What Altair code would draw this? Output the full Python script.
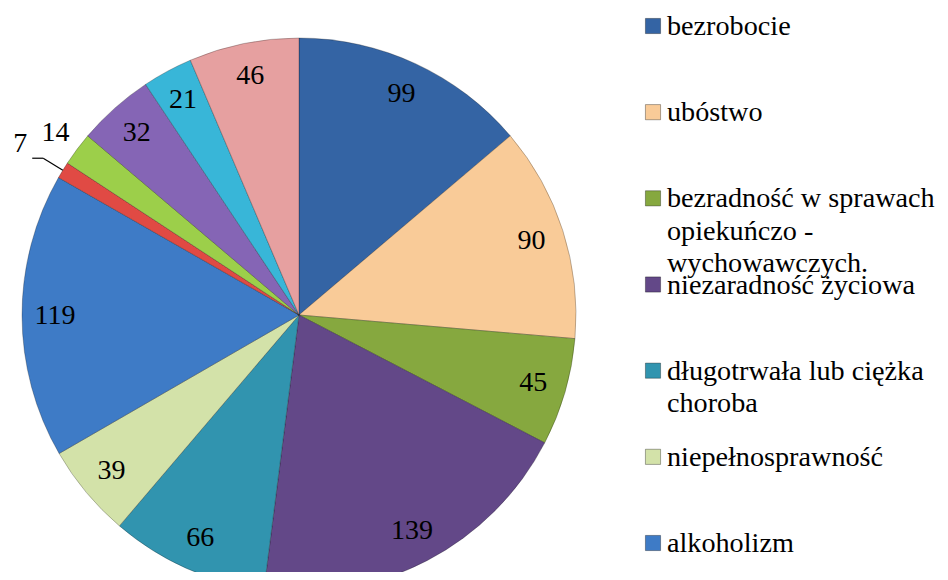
import altair as alt
import pandas as pd

# ---- data ----
names = [
    "bezrobocie",
    "ubóstwo",
    "bezradność w sprawach opiekuńczo - wychowawczych.",
    "niezaradność życiowa",
    "długotrwała lub ciężka choroba",
    "niepełnosprawność",
    "alkoholizm",
    "narkomania",
    "przemoc w rodzinie",
    "potrzeba ochrony macierzyństwa",
    "bezdomność",
    "wielodzietność",
]
values = [99, 90, 45, 139, 66, 39, 119, 7, 14, 32, 21, 46]
colors = [
    "#3464a4", "#f9cb98", "#86a83f", "#634888", "#3194af", "#d3e2a9",
    "#3e7bc6", "#e04a44", "#9ccf4a", "#8565b5", "#38b6d8", "#e6a0a0",
]
# legend as visible in the picture (only the first 7 entries fit)
legend_labels = [
    "bezrobocie",
    "ubóstwo",
    "bezradność w sprawach\nopiekuńczo -\nwychowawczych.",
    "niezaradność życiowa",
    "długotrwała lub ciężka\nchoroba",
    "niepełnosprawność",
    "alkoholizm",
]

df = pd.DataFrame({"idx": list(range(len(names))), "name": names, "value": values})
leg = pd.DataFrame({"idx": list(range(len(legend_labels))),
                    "name": names[:len(legend_labels)],
                    "label": legend_labels})

CX, CY, R = 291, 307, 277
FONT = "Liberation Serif"

color = alt.Color("name:N", scale=alt.Scale(domain=names, range=colors), legend=None)
theta = alt.Theta("value:Q", stack=True)
order = alt.Order("idx:Q", sort="ascending")

base = alt.Chart(df)

pie = base.mark_arc(radius=R, stroke="#000000", strokeOpacity=0.25, strokeWidth=1).encode(
    theta=theta, color=color, order=order,
    x=alt.value(CX), y=alt.value(CY),
)

inner = base.mark_text(radius=244, fontSize=28, font=FONT, color="black").encode(
    theta=theta, order=order,
    text=alt.condition("datum.value >= 20", "value:Q", alt.value("")),
    x=alt.value(CX), y=alt.value(CY),
)
outer14 = base.mark_text(radius=304, fontSize=28, font=FONT, color="black").encode(
    theta=theta, order=order,
    text=alt.condition("datum.value >= 10 && datum.value < 20", "value:Q", alt.value("")),
    x=alt.value(CX), y=alt.value(CY),
)
outer7 = base.mark_text(radius=327, fontSize=28, font=FONT, color="black").encode(
    theta=theta, order=order,
    text=alt.condition("datum.value < 10", "value:Q", alt.value("")),
    x=alt.value(CX), y=alt.value(CY),
)

lead_base = (
    base.transform_joinaggregate(total="sum(value)")
    .transform_window(cum="sum(value)", sort=[alt.SortField("idx")], frame=[None, 0])
    .transform_calculate(a="(datum.cum - datum.value/2)/datum.total*2*PI")
    .transform_filter("datum.value < 10")
    .transform_calculate(
        lx1=f"{CX}+{R}*sin(datum.a)", ly1=f"{CY}-{R}*cos(datum.a)",
        lx2=f"{CX}+300*sin(datum.a)", ly2=f"{CY}-300*cos(datum.a)",
    )
    .transform_calculate(lx3="datum.lx2 - 11")
)
lead1 = lead_base.mark_rule(color="black", strokeWidth=1.2).encode(
    x=alt.X("lx1:Q", scale=None), y=alt.Y("ly1:Q", scale=None),
    x2="lx2:Q", y2="ly2:Q",
)
lead2 = lead_base.mark_rule(color="black", strokeWidth=1.2).encode(
    x=alt.X("lx2:Q", scale=None), y=alt.Y("ly2:Q", scale=None),
    x2="lx3:Q", y2="ly2:Q",
)

leg_y = alt.Y("idx:O", scale=alt.Scale(type="point", range=[18, 535], padding=0), axis=None)
leg_sq = alt.Chart(leg).mark_square(size=230, opacity=1, stroke="#00000055", strokeWidth=1).encode(
    x=alt.value(645), y=leg_y, color=color,
)
leg_tx = alt.Chart(leg).mark_text(
    align="left", baseline="alphabetic", dy=9, fontSize=28.2, font=FONT,
    color="black", lineBreak="\n", lineHeight=32.5,
).encode(x=alt.value(659), y=leg_y, text="label:N")

chart = (
    alt.layer(pie, inner, outer14, outer7, lead1, lead2, leg_sq, leg_tx)
    .resolve_scale(y="independent", x="independent")
    .properties(width=932, height=564, padding=0,
                autosize=alt.AutoSizeParams(type="none"))
    .configure(font=FONT)
    .configure_text(font=FONT)
    .configure_view(stroke=None)
)

chart.save("out.html", embed_options={"renderer": "svg", "actions": False})
